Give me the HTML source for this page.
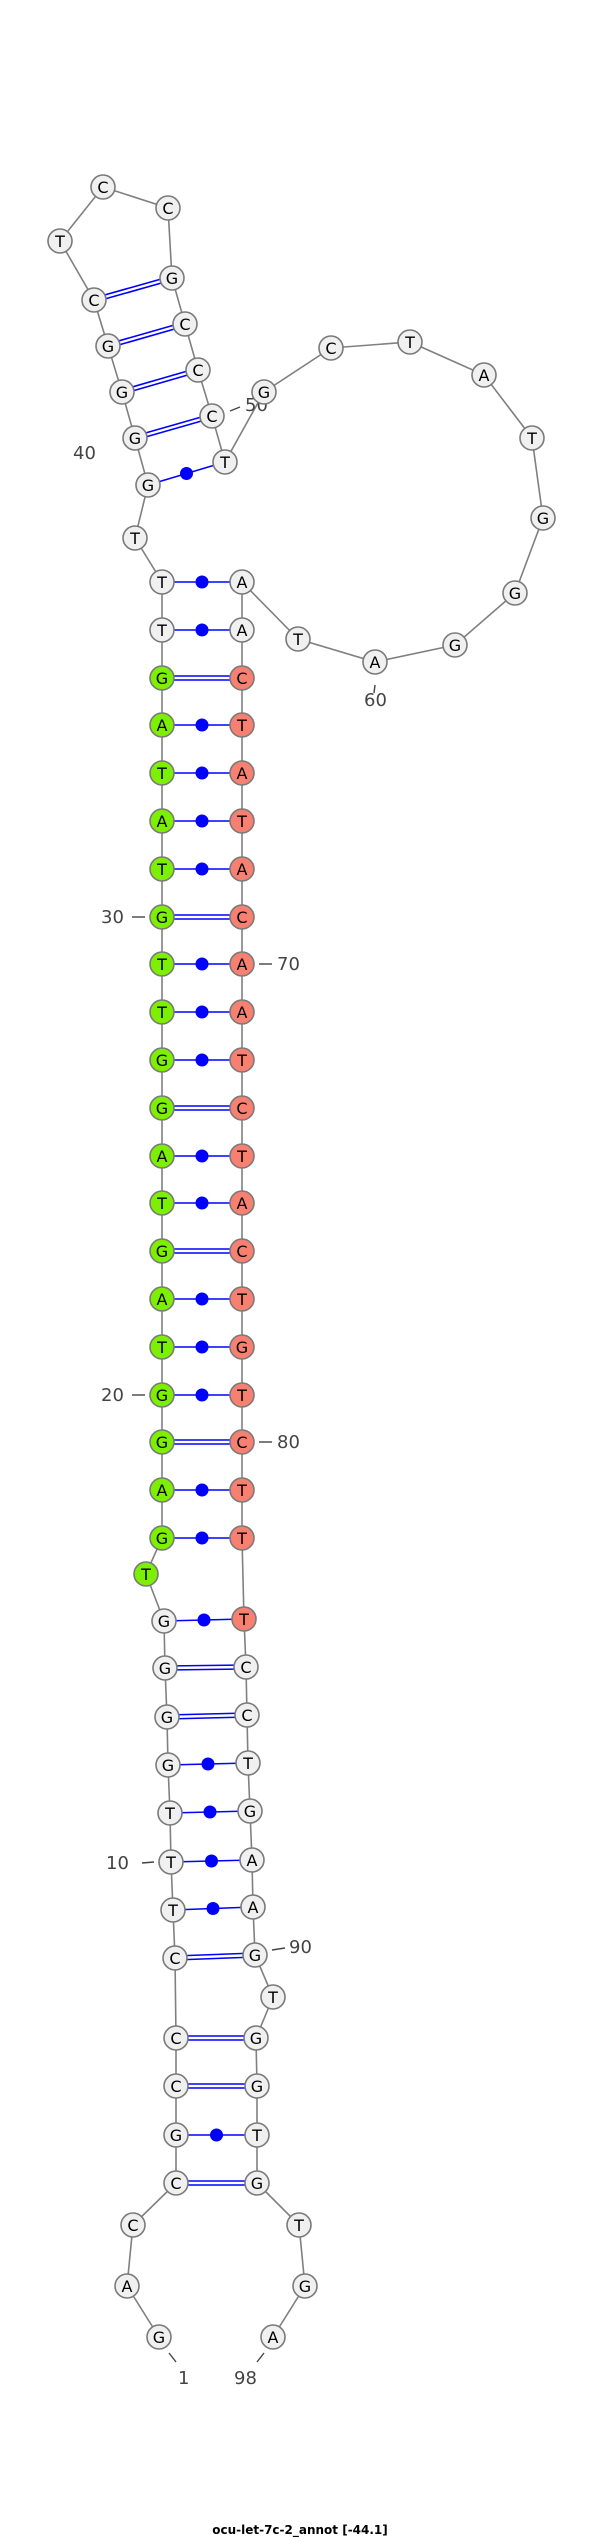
<!DOCTYPE html>
<html><head><meta charset="utf-8"><style>
html,body{margin:0;padding:0;background:#fff;}
svg{display:block;}
.n{stroke:#7a7a7a;stroke-width:1.6;}
.w{fill:#f0f0f0;}.g{fill:#7cf000;}.r{fill:#f88070;}
</style></head><body>
<svg width="600" height="2537" viewBox="0 0 600 2537" xmlns="http://www.w3.org/2000/svg">
<polyline fill="none" stroke="#808080" stroke-width="1.6" points="159,2337 127,2286 133,2225 176,2183 176,2135 176,2086 176,2038 175,1958 173,1910 171,1862 170,1813 168,1765 167,1717 165,1668 164,1621 146,1574 162,1538 162,1490 162,1442 162,1395 162,1347 162,1299 162,1251 162,1203 162,1156 162,1108 162,1060 162,1012 162,964 162,917 162,869 162,821 162,773 162,725 162,678 162,630 162,582 135,538 148,485 135,438 122,392 108,346 94,300 60,241 103,187 168,208 172,278 185,324 198,370 212,416 225,462 264,392 331,348 410,342 484,375 532,438 543,518 515,593 455,645 375,662 298,639 242,582 242,630 242,678 242,725 242,773 242,821 242,869 242,917 242,964 242,1012 242,1060 242,1108 242,1156 242,1203 242,1251 242,1299 242,1347 242,1395 242,1442 242,1490 242,1538 244,1619 246,1667 247,1715 248,1763 250,1811 252,1860 253,1907 255,1955 273,1997 256,2038 257,2086 257,2135 257,2183 299,2225 305,2286 273,2337"/>
<g stroke="#0000ff" stroke-width="1.6" fill="none">
<line x1="94.5" y1="301.9" x2="172.5" y2="279.9"/><line x1="93.5" y1="298.1" x2="171.5" y2="276.1"/>
<line x1="108.5" y1="347.9" x2="185.5" y2="325.9"/><line x1="107.5" y1="344.1" x2="184.5" y2="322.1"/>
<line x1="122.5" y1="393.9" x2="198.5" y2="371.9"/><line x1="121.5" y1="390.1" x2="197.5" y2="368.1"/>
<line x1="135.5" y1="439.9" x2="212.5" y2="417.9"/><line x1="134.5" y1="436.1" x2="211.5" y2="414.1"/>
<line x1="148" y1="485" x2="225" y2="462"/>
<line x1="162" y1="582" x2="242" y2="582"/>
<line x1="162" y1="630" x2="242" y2="630"/>
<line x1="162" y1="676" x2="242" y2="676"/><line x1="162" y1="680" x2="242" y2="680"/>
<line x1="162" y1="725" x2="242" y2="725"/>
<line x1="162" y1="773" x2="242" y2="773"/>
<line x1="162" y1="821" x2="242" y2="821"/>
<line x1="162" y1="869" x2="242" y2="869"/>
<line x1="162" y1="915" x2="242" y2="915"/><line x1="162" y1="919" x2="242" y2="919"/>
<line x1="162" y1="964" x2="242" y2="964"/>
<line x1="162" y1="1012" x2="242" y2="1012"/>
<line x1="162" y1="1060" x2="242" y2="1060"/>
<line x1="162" y1="1106" x2="242" y2="1106"/><line x1="162" y1="1110" x2="242" y2="1110"/>
<line x1="162" y1="1156" x2="242" y2="1156"/>
<line x1="162" y1="1203" x2="242" y2="1203"/>
<line x1="162" y1="1249" x2="242" y2="1249"/><line x1="162" y1="1253" x2="242" y2="1253"/>
<line x1="162" y1="1299" x2="242" y2="1299"/>
<line x1="162" y1="1347" x2="242" y2="1347"/>
<line x1="162" y1="1395" x2="242" y2="1395"/>
<line x1="162" y1="1440" x2="242" y2="1440"/><line x1="162" y1="1444" x2="242" y2="1444"/>
<line x1="162" y1="1490" x2="242" y2="1490"/>
<line x1="162" y1="1538" x2="242" y2="1538"/>
<line x1="164" y1="1621" x2="244" y2="1619"/>
<line x1="165" y1="1666" x2="246" y2="1665"/><line x1="165" y1="1670" x2="246" y2="1669"/>
<line x1="167" y1="1715" x2="247" y2="1713"/><line x1="167" y1="1719" x2="247" y2="1717"/>
<line x1="168" y1="1765" x2="248" y2="1763"/>
<line x1="170" y1="1813" x2="250" y2="1811"/>
<line x1="171" y1="1862" x2="252" y2="1860"/>
<line x1="173" y1="1910" x2="253" y2="1907"/>
<line x1="175" y1="1956" x2="255" y2="1953"/><line x1="175" y1="1960" x2="255" y2="1957"/>
<line x1="176" y1="2036" x2="256" y2="2036"/><line x1="176" y1="2040" x2="256" y2="2040"/>
<line x1="176" y1="2084" x2="257" y2="2084"/><line x1="176" y1="2088" x2="257" y2="2088"/>
<line x1="176" y1="2135" x2="257" y2="2135"/>
<line x1="176" y1="2181" x2="257" y2="2181"/><line x1="176" y1="2185" x2="257" y2="2185"/>
</g>
<g fill="#0000ff">
<circle cx="186.5" cy="473.5" r="6.5"/>
<circle cx="202" cy="582" r="6.5"/><circle cx="202" cy="630" r="6.5"/>
<circle cx="202" cy="725" r="6.5"/><circle cx="202" cy="773" r="6.5"/><circle cx="202" cy="821" r="6.5"/><circle cx="202" cy="869" r="6.5"/>
<circle cx="202" cy="964" r="6.5"/><circle cx="202" cy="1012" r="6.5"/><circle cx="202" cy="1060" r="6.5"/>
<circle cx="202" cy="1156" r="6.5"/><circle cx="202" cy="1203" r="6.5"/>
<circle cx="202" cy="1299" r="6.5"/><circle cx="202" cy="1347" r="6.5"/><circle cx="202" cy="1395" r="6.5"/>
<circle cx="202" cy="1490" r="6.5"/><circle cx="202" cy="1538" r="6.5"/>
<circle cx="204" cy="1620" r="6.5"/><circle cx="208" cy="1764" r="6.5"/><circle cx="210" cy="1812" r="6.5"/><circle cx="211.5" cy="1861" r="6.5"/><circle cx="213" cy="1908.5" r="6.5"/><circle cx="216.5" cy="2135" r="6.5"/>
</g>
<g stroke="#444" stroke-width="1.4">
<line x1="107" y1="349" x2="117" y2="346"/>
<line x1="230" y1="411" x2="240" y2="407"/>
<line x1="375" y1="685" x2="374" y2="693"/>
<line x1="132" y1="917" x2="145" y2="917"/>
<line x1="259" y1="964" x2="272" y2="964"/>
<line x1="132" y1="1395" x2="145" y2="1395"/>
<line x1="259" y1="1442" x2="272" y2="1442"/>
<line x1="142" y1="1863" x2="154" y2="1862"/>
<line x1="272" y1="1950" x2="285" y2="1948"/>
<line x1="169" y1="2353" x2="176" y2="2362"/>
<line x1="264" y1="2353" x2="257" y2="2362"/>
</g>
<g font-family="DejaVu Sans, Liberation Sans, sans-serif" font-size="18" fill="#444">
<text x="73" y="459">40</text>
<text x="245" y="411">50</text>
<text x="364" y="706">60</text>
<text x="101" y="923">30</text>
<text x="277" y="970">70</text>
<text x="101" y="1401">20</text>
<text x="277" y="1448">80</text>
<text x="106" y="1869">10</text>
<text x="289" y="1953">90</text>
<text x="178" y="2384">1</text>
<text x="234" y="2384">98</text>
</g>
<g class="n">
<circle class="w" cx="159" cy="2337" r="12"/><circle class="w" cx="127" cy="2286" r="12"/><circle class="w" cx="133" cy="2225" r="12"/>
<circle class="w" cx="176" cy="2183" r="12"/><circle class="w" cx="176" cy="2135" r="12"/><circle class="w" cx="176" cy="2086" r="12"/><circle class="w" cx="176" cy="2038" r="12"/>
<circle class="w" cx="175" cy="1958" r="12"/><circle class="w" cx="173" cy="1910" r="12"/><circle class="w" cx="171" cy="1862" r="12"/><circle class="w" cx="170" cy="1813" r="12"/>
<circle class="w" cx="168" cy="1765" r="12"/><circle class="w" cx="167" cy="1717" r="12"/><circle class="w" cx="165" cy="1668" r="12"/><circle class="w" cx="164" cy="1621" r="12"/>
<circle class="g" cx="146" cy="1574" r="12"/>
<circle class="g" cx="162" cy="1538" r="12"/><circle class="g" cx="162" cy="1490" r="12"/><circle class="g" cx="162" cy="1442" r="12"/><circle class="g" cx="162" cy="1395" r="12"/>
<circle class="g" cx="162" cy="1347" r="12"/><circle class="g" cx="162" cy="1299" r="12"/><circle class="g" cx="162" cy="1251" r="12"/><circle class="g" cx="162" cy="1203" r="12"/>
<circle class="g" cx="162" cy="1156" r="12"/><circle class="g" cx="162" cy="1108" r="12"/><circle class="g" cx="162" cy="1060" r="12"/><circle class="g" cx="162" cy="1012" r="12"/>
<circle class="g" cx="162" cy="964" r="12"/><circle class="g" cx="162" cy="917" r="12"/><circle class="g" cx="162" cy="869" r="12"/><circle class="g" cx="162" cy="821" r="12"/>
<circle class="g" cx="162" cy="773" r="12"/><circle class="g" cx="162" cy="725" r="12"/><circle class="g" cx="162" cy="678" r="12"/>
<circle class="w" cx="162" cy="630" r="12"/><circle class="w" cx="162" cy="582" r="12"/>
<circle class="w" cx="135" cy="538" r="12"/><circle class="w" cx="148" cy="485" r="12"/><circle class="w" cx="135" cy="438" r="12"/><circle class="w" cx="122" cy="392" r="12"/>
<circle class="w" cx="108" cy="346" r="12"/><circle class="w" cx="94" cy="300" r="12"/><circle class="w" cx="60" cy="241" r="12"/><circle class="w" cx="103" cy="187" r="12"/>
<circle class="w" cx="168" cy="208" r="12"/><circle class="w" cx="172" cy="278" r="12"/><circle class="w" cx="185" cy="324" r="12"/><circle class="w" cx="198" cy="370" r="12"/>
<circle class="w" cx="212" cy="416" r="12"/><circle class="w" cx="225" cy="462" r="12"/><circle class="w" cx="264" cy="392" r="12"/><circle class="w" cx="331" cy="348" r="12"/>
<circle class="w" cx="410" cy="342" r="12"/><circle class="w" cx="484" cy="375" r="12"/><circle class="w" cx="532" cy="438" r="12"/><circle class="w" cx="543" cy="518" r="12"/>
<circle class="w" cx="515" cy="593" r="12"/><circle class="w" cx="455" cy="645" r="12"/><circle class="w" cx="375" cy="662" r="12"/><circle class="w" cx="298" cy="639" r="12"/>
<circle class="w" cx="242" cy="582" r="12"/><circle class="w" cx="242" cy="630" r="12"/>
<circle class="r" cx="242" cy="678" r="12"/><circle class="r" cx="242" cy="725" r="12"/><circle class="r" cx="242" cy="773" r="12"/><circle class="r" cx="242" cy="821" r="12"/>
<circle class="r" cx="242" cy="869" r="12"/><circle class="r" cx="242" cy="917" r="12"/><circle class="r" cx="242" cy="964" r="12"/><circle class="r" cx="242" cy="1012" r="12"/>
<circle class="r" cx="242" cy="1060" r="12"/><circle class="r" cx="242" cy="1108" r="12"/><circle class="r" cx="242" cy="1156" r="12"/><circle class="r" cx="242" cy="1203" r="12"/>
<circle class="r" cx="242" cy="1251" r="12"/><circle class="r" cx="242" cy="1299" r="12"/><circle class="r" cx="242" cy="1347" r="12"/><circle class="r" cx="242" cy="1395" r="12"/>
<circle class="r" cx="242" cy="1442" r="12"/><circle class="r" cx="242" cy="1490" r="12"/><circle class="r" cx="242" cy="1538" r="12"/><circle class="r" cx="244" cy="1619" r="12"/>
<circle class="w" cx="246" cy="1667" r="12"/><circle class="w" cx="247" cy="1715" r="12"/><circle class="w" cx="248" cy="1763" r="12"/><circle class="w" cx="250" cy="1811" r="12"/>
<circle class="w" cx="252" cy="1860" r="12"/><circle class="w" cx="253" cy="1907" r="12"/><circle class="w" cx="255" cy="1955" r="12"/><circle class="w" cx="273" cy="1997" r="12"/>
<circle class="w" cx="256" cy="2038" r="12"/><circle class="w" cx="257" cy="2086" r="12"/><circle class="w" cx="257" cy="2135" r="12"/><circle class="w" cx="257" cy="2183" r="12"/>
<circle class="w" cx="299" cy="2225" r="12"/><circle class="w" cx="305" cy="2286" r="12"/><circle class="w" cx="273" cy="2337" r="12"/>
</g>
<g font-family="DejaVu Sans, Liberation Sans, sans-serif" font-size="16" text-anchor="middle" fill="#000">
<text x="159" y="2343">G</text><text x="127" y="2292">A</text><text x="133" y="2231">C</text>
<text x="176" y="2189">C</text><text x="176" y="2141">G</text><text x="176" y="2092">C</text><text x="176" y="2044">C</text>
<text x="175" y="1964">C</text><text x="173" y="1916">T</text><text x="171" y="1868">T</text><text x="170" y="1819">T</text>
<text x="168" y="1771">G</text><text x="167" y="1723">G</text><text x="165" y="1674">G</text><text x="164" y="1627">G</text>
<text x="146" y="1580">T</text>
<text x="162" y="1544">G</text><text x="162" y="1496">A</text><text x="162" y="1448">G</text><text x="162" y="1401">G</text>
<text x="162" y="1353">T</text><text x="162" y="1305">A</text><text x="162" y="1257">G</text><text x="162" y="1209">T</text>
<text x="162" y="1162">A</text><text x="162" y="1114">G</text><text x="162" y="1066">G</text><text x="162" y="1018">T</text>
<text x="162" y="970">T</text><text x="162" y="923">G</text><text x="162" y="875">T</text><text x="162" y="827">A</text>
<text x="162" y="779">T</text><text x="162" y="731">A</text><text x="162" y="684">G</text>
<text x="162" y="636">T</text><text x="162" y="588">T</text>
<text x="135" y="544">T</text><text x="148" y="491">G</text><text x="135" y="444">G</text><text x="122" y="398">G</text>
<text x="108" y="352">G</text><text x="94" y="306">C</text><text x="60" y="247">T</text><text x="103" y="193">C</text>
<text x="168" y="214">C</text><text x="172" y="284">G</text><text x="185" y="330">C</text><text x="198" y="376">C</text>
<text x="212" y="422">C</text><text x="225" y="468">T</text><text x="264" y="398">G</text><text x="331" y="354">C</text>
<text x="410" y="348">T</text><text x="484" y="381">A</text><text x="532" y="444">T</text><text x="543" y="524">G</text>
<text x="515" y="599">G</text><text x="455" y="651">G</text><text x="375" y="668">A</text><text x="298" y="645">T</text>
<text x="242" y="588">A</text><text x="242" y="636">A</text>
<text x="242" y="684">C</text><text x="242" y="731">T</text><text x="242" y="779">A</text><text x="242" y="827">T</text>
<text x="242" y="875">A</text><text x="242" y="923">C</text><text x="242" y="970">A</text><text x="242" y="1018">A</text>
<text x="242" y="1066">T</text><text x="242" y="1114">C</text><text x="242" y="1162">T</text><text x="242" y="1209">A</text>
<text x="242" y="1257">C</text><text x="242" y="1305">T</text><text x="242" y="1353">G</text><text x="242" y="1401">T</text>
<text x="242" y="1448">C</text><text x="242" y="1496">T</text><text x="242" y="1544">T</text><text x="244" y="1625">T</text>
<text x="246" y="1673">C</text><text x="247" y="1721">C</text><text x="248" y="1769">T</text><text x="250" y="1817">G</text>
<text x="252" y="1866">A</text><text x="253" y="1913">A</text><text x="255" y="1961">G</text><text x="273" y="2003">T</text>
<text x="256" y="2044">G</text><text x="257" y="2092">G</text><text x="257" y="2141">T</text><text x="257" y="2189">G</text>
<text x="299" y="2231">T</text><text x="305" y="2292">G</text><text x="273" y="2343">A</text>
</g>
<text x="300" y="2534" text-anchor="middle" font-family="DejaVu Sans, Liberation Sans, sans-serif" font-size="12" font-weight="bold" fill="#000">ocu-let-7c-2_annot [-44.1]</text>
</svg>
</body></html>
